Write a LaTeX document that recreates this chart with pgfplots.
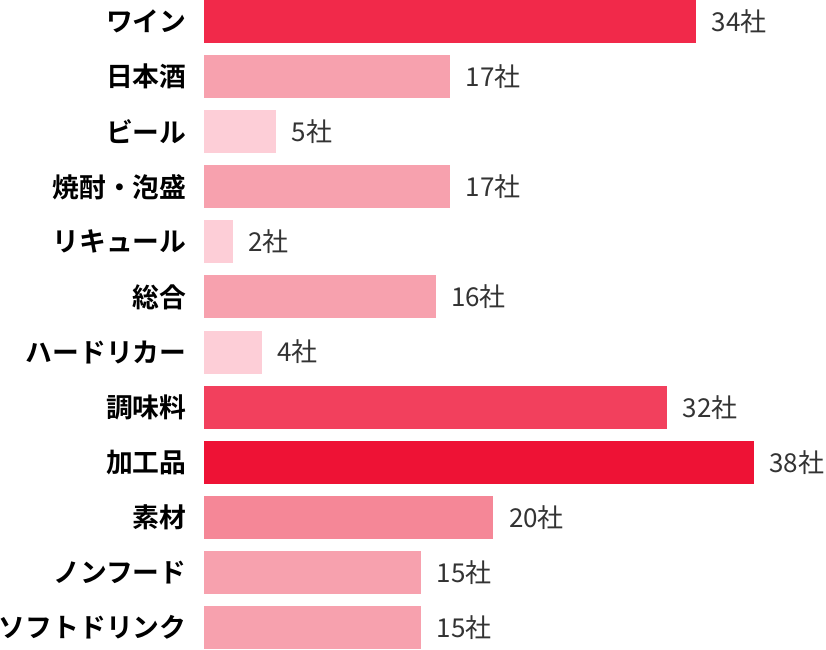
\documentclass[border=0pt]{standalone}
\usepackage{fontspec}
\setmainfont{Noto Sans CJK JP}[BoldFont={Noto Sans CJK JP Bold}]
\usepackage{pgfplots}
\pgfplotsset{compat=1.18}

\definecolor{c38}{HTML}{EE1235}
\definecolor{c34}{HTML}{F1294A}
\definecolor{c32}{HTML}{F2405D}
\definecolor{c20}{HTML}{F58797}
\definecolor{cmid}{HTML}{F7A1AE}
\definecolor{clow}{HTML}{FDCED7}
\definecolor{txt}{HTML}{333333}

\begin{document}
\begin{tikzpicture}
\begin{axis}[
    name=ax,
    xbar,
    bar shift=0pt,
    bar width=43pt,
    scale only axis,
    width=550pt, height=649pt,
    xmin=0, xmax=38,
    ymin=-0.39, ymax=11.39,
    y dir=reverse,
    axis line style={draw=none},
    xtick=\empty,
    ytick={0,...,11},
    yticklabels={ワイン,日本酒,ビール,焼酎・泡盛,リキュール,総合,ハードリカー,調味料,加工品,素材,ノンフード,ソフトドリンク},
    major tick length=0pt,
    yticklabel style={font=\fontsize{26.8}{26.8}\selectfont\bfseries, anchor=east, xshift=-14pt},
    clip=false,
    nodes near coords={\pgfmathprintnumber[assume math mode=true]{\pgfplotspointmeta}社},
    nodes near coords align={horizontal},
    every node near coord/.append style={font=\fontsize{26}{26}\selectfont, text=txt, anchor=west, xshift=12pt},
    every axis plot/.append style={draw=none},
]
\addplot[fill=c34] coordinates {(34,0)};
\addplot[fill=cmid] coordinates {(17,1)};
\addplot[fill=clow] coordinates {(5,2)};
\addplot[fill=cmid] coordinates {(17,3)};
\addplot[fill=clow] coordinates {(2,4)};
\addplot[fill=cmid] coordinates {(16,5)};
\addplot[fill=clow] coordinates {(4,6)};
\addplot[fill=c32] coordinates {(32,7)};
\addplot[fill=c38] coordinates {(38,8)};
\addplot[fill=c20] coordinates {(20,9)};
\addplot[fill=cmid] coordinates {(15,10)};
\addplot[fill=cmid] coordinates {(15,11)};
\end{axis}
\pgfresetboundingbox
\path ([xshift=-204pt]ax.south west) rectangle ([xshift=72pt]ax.north east);
\end{tikzpicture}
\end{document}
